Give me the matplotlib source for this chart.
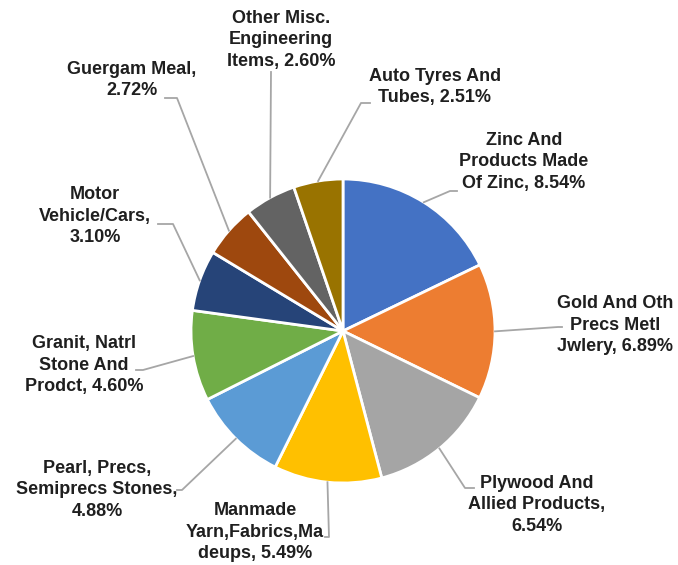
import numpy as np
import matplotlib
matplotlib.use("Agg")
import matplotlib.pyplot as plt

# data
labels = [
    "Zinc And\nProducts Made\nOf Zinc, 8.54%",
    "Gold And Oth\nPrecs Metl\nJwlery, 6.89%",
    "Plywood And\nAllied Products,\n6.54%",
    "Manmade\nYarn,Fabrics,Ma\ndeups, 5.49%",
    "Pearl, Precs,\nSemiprecs Stones,\n4.88%",
    "Granit, Natrl\nStone And\nProdct, 4.60%",
    "Motor\nVehicle/Cars,\n3.10%",
    "Guergam Meal,\n2.72%",
    "Other Misc.\nEngineering\nItems, 2.60%",
    "Auto Tyres And\nTubes, 2.51%",
]
shares = [8.54, 6.89, 6.54, 5.49, 4.88, 4.60, 3.10, 2.72, 2.60, 2.51]
colors = ["#4472C4", "#ED7D31", "#A5A5A5", "#FFC000", "#5B9BD5",
          "#70AD47", "#264478", "#9E480E", "#636363", "#997300"]

# layout (pixel coords, y measured from top)
W, H = 678, 565
cx, cy, rad = 343, 331, 152
text_pos = [(524, 162), (615, 325), (537, 505), (255, 532), (97, 490),
            (84, 365), (95, 216), (132, 80), (281, 40), (435, 87)]
# elbow point and end of the short horizontal tail of each leader line
elbows = [((450, 191), (457, 191)), ((558, 327), (562, 327)),
          ((465, 488), (474, 488)), ((329, 537), (325, 537)),
          ((182, 490), (177, 490)), ((143, 370), (136, 370)),
          ((173, 224), (158, 224)), ((177, 98), (165, 98)),
          ((271, 72), (271, 72)), ((361, 103), (370, 103))]

plt.rcParams['font.family'] = ['Liberation Sans', 'DejaVu Sans']

fig = plt.figure(figsize=(W / 100, H / 100), dpi=100)
ax = fig.add_axes([0, 0, 1, 1])

wedges, _ = ax.pie(shares, colors=colors, startangle=90, counterclock=False,
                   center=(cx, H - cy), radius=rad,
                   wedgeprops=dict(edgecolor="white", linewidth=2))
ax.set_xlim(0, W)
ax.set_ylim(0, H)
ax.set_aspect("equal")
ax.axis("off")

for w, lab, (tx, ty), (e1, e2) in zip(wedges, labels, text_pos, elbows):
    mid = np.deg2rad((w.theta1 + w.theta2) / 2)
    sx = cx + rad * np.cos(mid)
    sy = (H - cy) + rad * np.sin(mid)
    ax.plot([sx, e1[0], e2[0]], [sy, H - e1[1], H - e2[1]],
            color="#A6A6A6", lw=1.3, zorder=1)
    ax.text(tx, H - ty, lab, ha="center", va="center", fontsize=13,
            fontweight="bold", color="#1f1f1f", linespacing=1.38)

fig.savefig("out.png", dpi=100)
